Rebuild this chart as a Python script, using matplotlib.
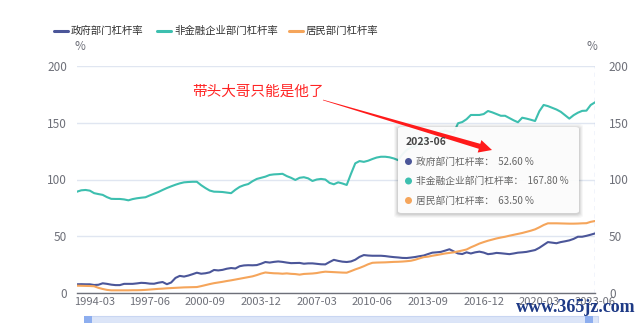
import matplotlib
matplotlib.use('Agg')
import matplotlib.pyplot as plt
from matplotlib.patches import FancyBboxPatch, Rectangle, Polygon, Ellipse
import numpy as np

plt.rcParams['font.family'] = ['Noto Sans CJK SC', 'DejaVu Sans']

# ---------------- data ----------------
quarters = [f"{y}-{m:02d}" for y in range(1993, 2024) for m in (3, 6, 9, 12)][:122]

series_names = ["政府部门杠杆率", "非金融企业部门杠杆率", "居民部门杠杆率"]
series_colors = ["#4B5699", "#3DBFAF", "#F5A55B"]

gov = [7.9, 8.0, 7.9, 7.9, 7.3, 7.5, 8.8, 8.3, 7.6, 7.2,
       7.2, 8.3, 8.3, 8.3, 8.7, 9.2, 9.0, 8.5, 8.4, 9.3,
       9.9, 8.0, 9.5, 13.5, 15.3, 14.7, 15.6, 16.8, 18.1, 17.2,
       17.6, 18.4, 20.5, 20.1, 20.6, 21.6, 22.2, 21.8, 23.8, 24.5,
       24.7, 24.6, 24.8, 26.0, 27.5, 27.0, 27.6, 28.0, 27.6, 27.0,
       26.5, 26.6, 26.7, 26.0, 26.3, 26.3, 25.9, 25.5, 25.4, 27.5,
       29.4, 28.5, 27.8, 27.5, 28.0, 29.5, 32.0, 33.6, 33.2, 33.0,
       33.0, 33.0, 32.7, 32.2, 31.8, 31.5, 31.1, 31.0, 31.4, 31.9,
       32.6, 33.2, 34.5, 35.7, 36.0, 36.4, 37.5, 38.7, 36.8, 35.0,
       34.5, 36.0, 35.0, 36.0, 36.6, 35.8, 34.4, 34.8, 35.5, 35.2,
       34.8, 34.4, 35.0, 35.7, 36.0, 36.4, 37.2, 38.0, 40.0, 42.5,
       45.0, 44.5, 44.0, 45.0, 45.7, 46.5, 47.8, 49.7, 49.7, 50.5,
       51.5, 52.6]

corp = [89.3, 90.5, 90.8, 90.2, 88.0, 87.2, 86.5, 84.5, 83.0, 82.9,
        82.9, 82.5, 81.7, 82.8, 83.5, 84.0, 84.4, 86.0, 87.5, 89.0,
        90.8, 92.5, 94.0, 95.4, 96.6, 97.5, 97.8, 98.0, 98.0, 95.0,
        92.5, 90.3, 89.3, 89.2, 89.0, 88.5, 88.0, 91.0, 93.5, 95.0,
        96.0, 98.5, 100.5, 101.5, 102.5, 104.0, 104.5, 104.7, 105.0, 103.0,
        101.5, 99.6, 101.5, 102.0, 101.0, 98.7, 100.0, 100.5, 100.0, 97.0,
        95.8, 97.5, 96.5, 95.2, 105.0, 114.2, 116.2, 115.5, 116.5, 118.0,
        119.3, 120.0, 120.0, 119.5, 118.5, 117.0, 122.0, 126.0, 128.0, 129.0,
        131.0, 133.0, 135.0, 137.0, 139.0, 142.0, 143.0, 142.0, 141.0, 149.4,
        150.5, 153.0, 156.7, 156.7, 156.7, 157.5, 160.2, 159.0, 157.5, 156.0,
        156.0, 154.0, 152.0, 150.3, 154.3, 153.5, 152.5, 151.4, 160.0, 165.5,
        164.5, 163.0, 161.5, 159.5, 156.5, 153.5, 156.5, 158.7, 160.3, 160.5,
        165.5, 167.8]

house = [6.7, 6.6, 6.5, 6.4, 6.2, 4.8, 3.8, 3.0, 2.6, 2.6,
         2.6, 2.6, 2.6, 2.7, 2.7, 2.8, 3.0, 3.3, 3.6, 3.9,
         4.1, 4.4, 4.6, 4.8, 5.0, 5.2, 5.3, 5.4, 5.5, 6.3,
         7.2, 8.1, 8.9, 9.5, 10.1, 10.8, 11.4, 12.1, 12.8, 13.5,
         14.2, 14.9, 16.0, 17.3, 18.3, 17.9, 17.6, 17.5, 17.2, 17.5,
         17.1, 16.9, 16.4, 17.0, 17.2, 17.4, 17.8, 18.5, 19.0, 18.8,
         18.6, 18.4, 18.2, 18.1, 19.5, 21.0, 22.3, 23.8, 25.5, 26.8,
         27.0, 27.1, 27.2, 27.4, 27.6, 27.7, 27.9, 28.2, 28.6, 29.5,
         30.7, 31.8, 32.2, 33.0, 33.6, 34.3, 35.0, 35.5, 36.0, 36.8,
         37.6, 38.5, 40.4, 42.0, 43.7, 45.0, 46.2, 47.2, 48.2, 49.0,
         49.7, 50.6, 51.4, 52.2, 53.0, 54.0, 55.0, 56.2, 58.0, 60.0,
         61.5, 61.5, 61.5, 61.4, 61.3, 61.2, 61.2, 61.3, 61.5, 61.6,
         62.8, 63.5]

y_ticks = [0, 50, 100, 150, 200]
x_tick_labels = ["1994-03", "1997-06", "2000-09", "2003-12", "2007-03",
                 "2010-06", "2013-09", "2016-12", "2020-03", "2023-06"]
annotation_text = "带头大哥只能是他了"
watermark = "www.365jz.com"

# ---------------- figure ----------------
W, H = 640, 323
fig = plt.figure(figsize=(W / 100, H / 100), dpi=100)
fig.patch.set_facecolor('white')


def fx(x):
    return x / W


def fy(y):
    return 1 - y / H


ax_l, ax_r, ax_t, ax_b = 77, 595, 65.7, 293.3
ax = fig.add_axes([fx(ax_l), fy(ax_b), fx(ax_r) - fx(ax_l), fy(ax_t) - fy(ax_b)])
x = np.arange(len(quarters))
all_series = [gov, corp, house]
for vals, name, col in zip(all_series, series_names, series_colors):
    ax.plot(x, vals, color=col, lw=1.5, label=name, zorder=3, solid_joinstyle='round')

ax.set_xlim(0, len(quarters) - 1)
ax.set_ylim(0, 200)
ax.set_yticks(y_ticks)
ax.set_yticklabels([str(v) for v in y_ticks])
for s in ['top', 'left', 'right']:
    ax.spines[s].set_visible(False)
ax.spines['bottom'].set_color('#6E7079')
ax.spines['bottom'].set_linewidth(1)
ax.grid(axis='y', color='#E0E6F1', lw=1)
ax.set_axisbelow(True)
tick_idx = [quarters.index(q) for q in x_tick_labels]
ax.set_xticks(tick_idx)
ax.set_xticklabels(x_tick_labels)
ax.tick_params(axis='x', length=0, pad=3, labelsize=8, colors='#6E7079')
ax.tick_params(axis='y', length=0, pad=7, labelsize=8.5, colors='#6E7079')

ax2 = ax.twinx()
ax2.set_ylim(0, 200)
ax2.set_yticks(y_ticks)
ax2.set_yticklabels([str(v) for v in y_ticks])
for s in ['top', 'left', 'right', 'bottom']:
    ax2.spines[s].set_visible(False)
ax2.tick_params(axis='y', length=0, pad=10, labelsize=8.5, colors='#6E7079')

# axis pointer dashed line
ax.axvline(len(quarters) - 1, color='#B9C8EF', lw=1, ls=(0, (3, 3)), zorder=1)

# "%" units
fig.text(fx(80), fy(46), "%", ha='center', va='center', fontsize=8.5, color='#6E7079')
fig.text(fx(592), fy(46), "%", ha='center', va='center', fontsize=8.5, color='#6E7079')

# legend
leg_items = [(54, 71), (157, 174), (289, 306)]
for (lx, tx), name, col in zip(leg_items, series_names, series_colors):
    fig.add_artist(plt.Line2D([fx(lx), fx(lx + 14)], [fy(30.5), fy(30.5)],
                              color=col, lw=2.2, solid_capstyle='round'))
    fig.text(fx(tx), fy(30.5), name, ha='left', va='center', fontsize=7.5, color='#333333')

# annotation text
fig.text(fx(192), fy(92), annotation_text, ha='left', va='center', fontsize=10.5, color='#FF2424')

# tapered arrow
S = np.array([323.0, 100.0])
E = np.array([492.0, 150.0])
d = (E - S) / np.linalg.norm(E - S)
n = np.array([-d[1], d[0]])
hb = E - 13 * d
pts = [S + 0.3 * n, hb + 2.6 * n, hb + 6.5 * n, E, hb - 6.5 * n, hb - 2.6 * n, S - 0.3 * n]
fig.add_artist(Polygon([(fx(p[0]), fy(p[1])) for p in pts], closed=True,
                       facecolor='#FF1A1A', edgecolor='none', zorder=6))

# tooltip
bx0, by0, bx1, by1 = 398, 127, 579, 213
for k, a in [(4, 0.03), (3, 0.04), (2, 0.05), (1, 0.06)]:
    fig.add_artist(FancyBboxPatch((fx(bx0 - k), fy(by1 + k + 1)), fx(bx1 - bx0 + 2 * k), fy(0) - fy(by1 - by0 + 2 * k),
                                  boxstyle='round,pad=0,rounding_size=0.008', facecolor='#000000',
                                  alpha=a, edgecolor='none', zorder=4))
fig.add_artist(FancyBboxPatch((fx(bx0), fy(by1)), fx(bx1 - bx0), fy(0) - fy(by1 - by0),
                              boxstyle='round,pad=0,rounding_size=0.006', facecolor='white',
                              alpha=0.93, edgecolor='none', zorder=5))
fig.text(fx(406), fy(142), quarters[-1], ha='left', va='center', fontsize=7.5,
         fontweight='bold', color='#464646', zorder=7)
rows_y = [161.5, 181, 200.5]
for ry, name, col, vals in zip(rows_y, series_names, series_colors, all_series):
    fig.add_artist(Ellipse((fx(408.5), fy(ry)), 7.0 / W, 7.0 / H, facecolor=col,
                           edgecolor='none', zorder=7))
    fig.text(fx(416), fy(ry), f"{name}：  {vals[-1]:.2f} %", ha='left', va='center',
             fontsize=7, color='#666666', zorder=7)

# dataZoom slider (cut off)
fig.add_artist(Rectangle((fx(85), fy(323)), fx(598 - 85), fy(316) - fy(323),
                         facecolor='#DCE5F8', edgecolor='#C9D6F2', lw=0.8, zorder=2))
for hx in (84, 585):
    fig.add_artist(Rectangle((fx(hx), fy(323)), fx(8), fy(316) - fy(323),
                             facecolor='#8DAEEF', edgecolor='none', zorder=3))

# watermark
fig.text(fx(576), fy(307), watermark, ha='center', va='center', fontsize=13,
         family='Liberation Serif', fontweight='bold', color='#1E3A86', zorder=8)

fig.savefig('out.png', dpi=100)
